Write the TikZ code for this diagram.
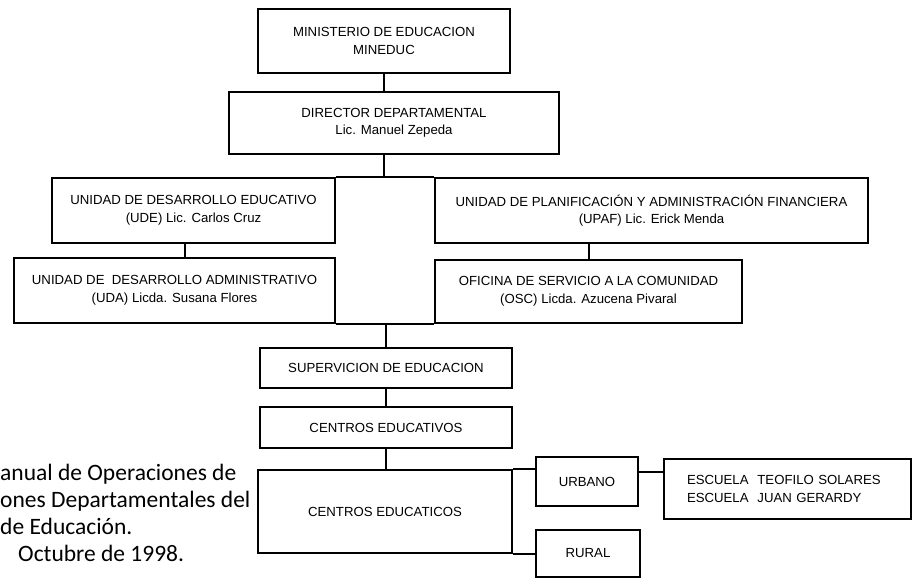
\documentclass[tikz,border=0pt]{standalone}
\usepackage{fontspec}
\setmainfont{Liberation Sans}
\newfontfamily\notefont{Carlito}
\usepackage{tikz}
\usetikzlibrary{calc}

\begin{document}
\begin{tikzpicture}[x=1pt,y=-1pt,
    every node/.style={font=\fontsize{13.2}{17.5}\selectfont},
    unit/.style={draw,line width=2pt,inner sep=2pt,align=center},
    link/.style={line width=2pt}
  ]
    \useasboundingbox (0,0) rectangle (913,579);
    \node[unit,minimum width=252,minimum height=64] (min) at (384,41)
      {MINISTERIO DE EDUCACION\\MINEDUC};
    \node[unit,minimum width=330,minimum height=62] (dir) at (394,123)
      {DIRECTOR DEPARTAMENTAL\\Lic. Manuel Zepeda};
    \node[unit,minimum width=283,minimum height=65] (ude) at (193.5,210.5)
      {UNIDAD DE DESARROLLO EDUCATIVO\\(UDE) Lic. Carlos Cruz};
    \node[unit,minimum width=321,minimum height=65] (uda) at (174.5,290.5)
      {UNIDAD DE \ DESARROLLO ADMINISTRATIVO\\(UDA) Licda. Susana Flores};
    \node[unit,minimum width=433,minimum height=65] (upaf) at (651.5,210.5)
      {UNIDAD DE PLANIFICACIÓN Y ADMINISTRACIÓN FINANCIERA\\(UPAF) Lic. Erick Menda};
    \node[unit,minimum width=307,minimum height=63] (osc) at (588.5,291.5)
      {OFICINA DE SERVICIO A LA COMUNIDAD\\(OSC) Licda. Azucena Pivaral};
    \node[unit,minimum width=252,minimum height=40] (sup) at (386,368)
      {SUPERVICION DE EDUCACION};
    \node[unit,minimum width=252,minimum height=41] (cev) at (386,427.5)
      {CENTROS EDUCATIVOS};
    \node[unit,minimum width=254,minimum height=83] (ceb) at (385,511.5)
      {CENTROS EDUCATICOS};
    \node[unit,minimum width=102,minimum height=49] (urb) at (587,481.5)
      {URBANO};
    \node[unit,minimum width=104,minimum height=47] (rur) at (588,553.5)
      {RURAL};
    \node[unit,minimum width=247,minimum height=60,text width=201,
          inner xsep=23,align=left] (esc) at (787.5,489)
      {ESCUELA \ TEOFILO SOLARES\\ESCUELA \ JUAN GERARDY};
    \node[anchor=north west,inner sep=0,align=left,
          font=\notefont\fontsize{23.5}{27}\selectfont] (src) at (0,464)
      {anual de Operaciones de\\ones Departamentales del\\de Educación.\\
       \hspace*{18pt}Octubre de 1998.};
    \draw[link] (min.south) -- (min.south |- dir.north);
    \draw[link] (ude.north east) -- (upaf.north west);
    \draw[link] (uda.south east) -- (osc.south west);
    \draw[link] (dir.south -| min.south) -- (min.south |- ude.north);
    \draw[link] ([xshift=-8.5]ude.south) -- ([xshift=-8.5]ude.south |- uda.north);
    \draw[link] (osc.north |- upaf.south) -- (osc.north);
    \draw[link] (sup.north |- uda.south) -- (sup.north);
    \draw[link] (sup) -- (cev);
    \draw[link] (cev.south) -- (cev.south |- ceb.north);
    \draw[link] (ceb.north east) -- (ceb.north east -| urb.west);
    \draw[link] (ceb.south east) -- (ceb.south east -| rur.west);
    \draw[link] ([yshift=10]urb.east) -- ([yshift=10]urb.east -| esc.west);
  \end{tikzpicture}
\end{document}
